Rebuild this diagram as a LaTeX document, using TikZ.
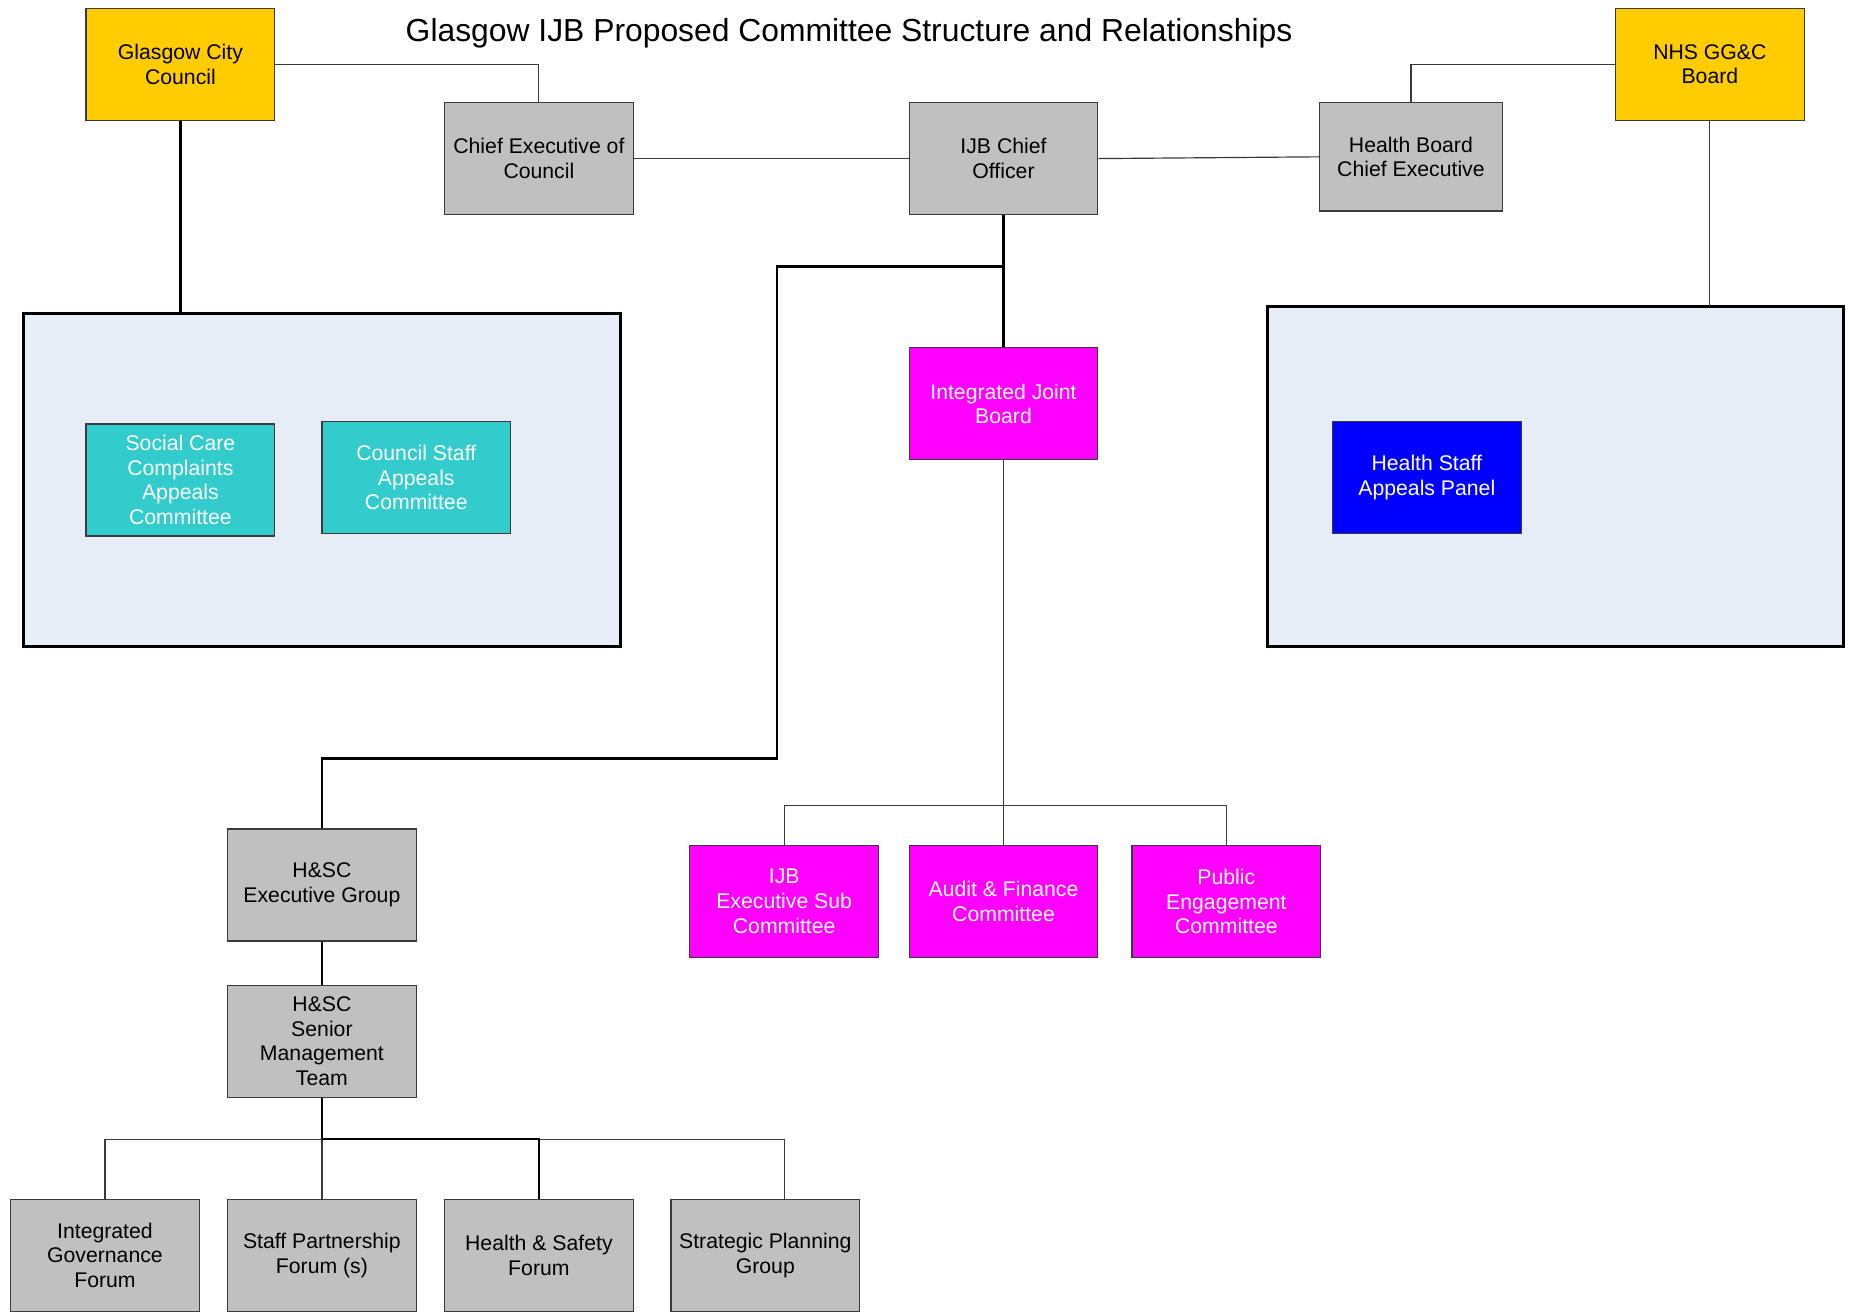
\documentclass[tikz,border=0pt]{standalone}
\usepackage{fontspec}
\setmainfont{Liberation Sans}
\definecolor{boardGold}{HTML}{FFCC00}
\definecolor{officerGray}{HTML}{C0C0C0}
\definecolor{appealTeal}{HTML}{33CCCC}
\definecolor{panelBlue}{HTML}{0000FF}
\definecolor{ijbMagenta}{HTML}{FF00FF}
\definecolor{panelBack}{HTML}{E7EDF7}
\definecolor{edgeGray}{HTML}{3A3A3A}
\begin{document}
\begin{tikzpicture} [x=0.5pt,y=-0.5pt,
	unit/.style={shape=rectangle,minimum width=80pt,minimum height=47.5pt,inner sep=1pt,draw=edgeGray,line width=0.5pt,align=center,font=\fontsize{9}{10.5}\selectfont},
	board/.style={unit,fill=boardGold},
	officer/.style={unit,fill=officerGray},
	appeal/.style={unit,fill=appealTeal,text=white},
	health/.style={unit,fill=panelBlue,text=white},
	ijbBox/.style={unit,fill=ijbMagenta,text=white},
	panel/.style={shape=rectangle,draw=black,line width=1.3pt,fill=panelBack,inner sep=0pt},
	link/.style={draw=edgeGray,line width=0.5pt},
	mainLink/.style={draw=black,line width=1.1pt}]
	\useasboundingbox (0,0) rectangle (1568,1113);

	\node at (720,28) {\fontsize{13.5}{16}\selectfont Glasgow IJB Proposed Committee Structure and Relationships};

	\node (councilPanel) at (273,407)[panel,minimum width=253pt,minimum height=141pt] {};
	\node (healthPanel) at (1319,404)[panel,minimum width=244pt,minimum height=144pt] {};

	\node (glasgowCouncil) at (153,54.5)[board] {Glasgow City\\Council};
	\node (nhsBoard) at (1450,54.5)[board] {NHS GG\&C\\Board};
	\node (councilCE) at (457,134.5)[officer] {Chief Executive of\\Council};
	\node (chiefOfficer) at (851,134.5)[officer] {IJB Chief\\Officer};
	\node (healthCE) at (1196.5,133)[officer,minimum width=77.5pt,minimum height=46pt] {Health Board\\Chief Executive};

	\node (complaintsAppeals) at (153,407)[appeal] {Social Care\\Complaints\\Appeals\\Committee};
	\node (councilAppeals) at (353,405)[appeal] {Council Staff\\Appeals\\Committee};
	\node (healthAppeals) at (1210,405)[health] {Health Staff\\Appeals Panel};

	\node (ijb) at (851,342.5)[ijbBox] {Integrated Joint\\Board};
	\node (execSub) at (665,764.5)[ijbBox] {IJB\\Executive Sub\\Committee};
	\node (auditFinance) at (851,764.5)[ijbBox] {Audit \& Finance\\Committee};
	\node (publicEngage) at (1040,764.5)[ijbBox] {Public\\Engagement\\Committee};

	\node (hscExec) at (273,750.5)[officer] {H\&SC\\Executive Group};
	\node (hscSMT) at (273,883)[officer] {H\&SC\\Senior\\Management\\Team};

	\node (govForum) at (89,1064.5)[officer] {Integrated\\Governance\\Forum};
	\node (partnershipForum) at (273,1064.5)[officer] {Staff Partnership\\Forum (s)};
	\node (safetyForum) at (457,1064.5)[officer] {Health \& Safety\\Forum};
	\node (planningGroup) at (649,1064.5)[officer] {Strategic Planning\\Group};

	\coordinate (officerJoin) at (851,226);
	\coordinate (leftBend) at (659,643);
	\coordinate (ijbBar) at (851,683);
	\coordinate (smtBar) at (273,966);

	% top level links
	\draw[link] (glasgowCouncil.east) -| (councilCE.north);
	\draw[link] (nhsBoard.west) -| (healthCE.north);
	\draw[link] (councilCE.east) -- (chiefOfficer.west);
	\draw[link] (chiefOfficer.east) -- (healthCE.west);
	\draw[mainLink] (glasgowCouncil.south) -- (glasgowCouncil.south |- councilPanel.north);
	\draw[link] (nhsBoard.south) -- (nhsBoard.south |- healthPanel.north);

	% chief officer to board and executive group
	\draw[mainLink] (chiefOfficer.south) -- (officerJoin) -- (ijb.north);
	\draw[mainLink] (officerJoin) -| (leftBend) -| (hscExec.north);

	% board committees
	\draw[link] (ijb.south) -- (auditFinance.north);
	\draw[link] (execSub.north) |- (ijbBar) -| (publicEngage.north);

	% management forums
	\draw[mainLink] (hscExec.south) -- (hscSMT.north);
	\draw[mainLink] (hscSMT.south) -- (smtBar);
	\draw[link] (govForum.north) |- (smtBar) -| ([xshift=8pt]planningGroup.north);
	\draw[link] (smtBar) -- (partnershipForum.north);
	\draw[mainLink] (smtBar) -| (safetyForum.north);
\end{tikzpicture}
\end{document}
